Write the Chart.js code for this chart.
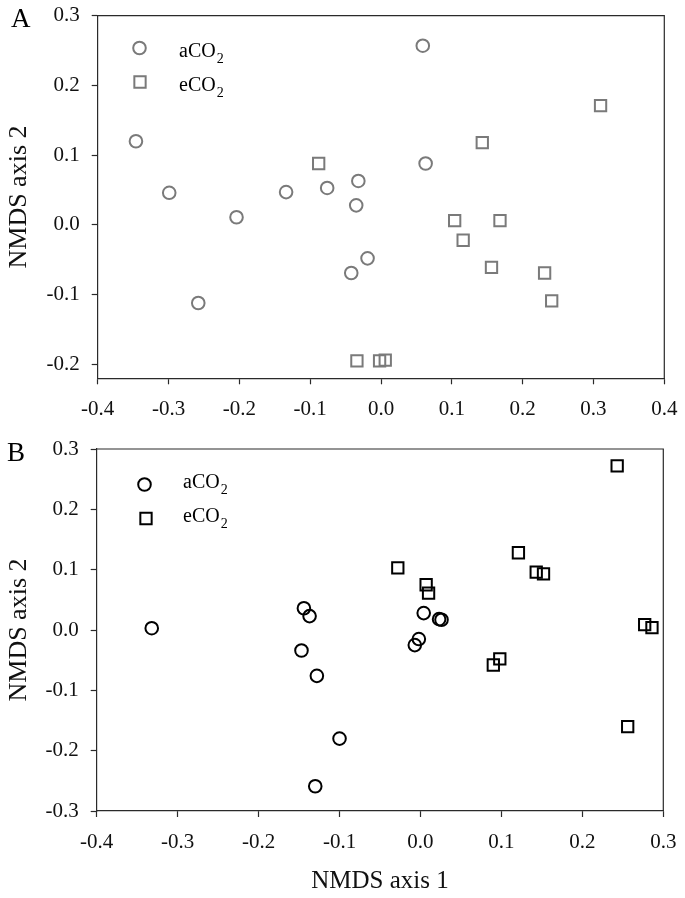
<!DOCTYPE html>
<html><head><meta charset="utf-8">
<script src="https://cdn.jsdelivr.net/npm/chart.js@4/dist/chart.umd.min.js"></script>
<style>
html,body{margin:0;padding:0;background:#fff;width:685px;height:898px;overflow:hidden}
canvas{position:absolute;left:0}
#cA{top:0}#cB{top:430px}
</style></head><body>
<canvas id="cA" width="685" height="430"></canvas>
<canvas id="cB" width="685" height="468"></canvas>
<script>
// ---------- data ----------
const seriesNames = ['aCO2', 'eCO2'];

// Panel A
const A_aCO2_x = [-0.346, -0.299, -0.204, -0.258, -0.134, -0.076, -0.035, -0.042, -0.032, -0.019, 0.059, 0.063];
const A_aCO2_y = [0.120, 0.046, 0.011, -0.112, 0.047, 0.053, 0.028, -0.069, 0.063, -0.048, 0.257, 0.088];
const A_eCO2_x = [-0.088, 0.310, 0.143, 0.104, 0.168, 0.116, 0.156, 0.231, 0.241, -0.034, -0.002, 0.006];
const A_eCO2_y = [0.088, 0.171, 0.118, 0.006, 0.006, -0.022, -0.061, -0.069, -0.109, -0.195, -0.195, -0.194];

// Panel B
const B_aCO2_x = [-0.332, -0.144, -0.137, -0.147, -0.128, -0.100, -0.130, 0.004, 0.023, 0.026, -0.002, -0.007];
const B_aCO2_y = [0.003, 0.036, 0.023, -0.034, -0.076, -0.180, -0.259, 0.028, 0.018, 0.017, -0.015, -0.025];
const B_eCO2_x = [-0.028, 0.007, 0.010, 0.121, 0.143, 0.152, 0.243, 0.277, 0.286, 0.098, 0.090, 0.256];
const B_eCO2_y = [0.103, 0.075, 0.061, 0.128, 0.096, 0.093, 0.272, 0.009, 0.004, -0.048, -0.058, -0.160];

// ticks
const A_xTicks = [-0.4, -0.3, -0.2, -0.1, 0.0, 0.1, 0.2, 0.3, 0.4];
const A_yTicks = [-0.2, -0.1, 0.0, 0.1, 0.2, 0.3];
const B_xTicks = [-0.4, -0.3, -0.2, -0.1, 0.0, 0.1, 0.2, 0.3];
const B_yTicks = [-0.3, -0.2, -0.1, 0.0, 0.1, 0.2, 0.3];

const xTitle = 'NMDS axis 1';
const yTitle = 'NMDS axis 2';

// ---------- helpers ----------
const SERIF = '"Liberation Serif", "Times New Roman", serif';
Chart.defaults.font.family = SERIF;
Chart.defaults.color = '#111';

function pts(xs, ys) { return xs.map((x, i) => ({x: x, y: ys[i]})); }

const framePlugin = {
  id: 'frame',
  afterDraw(chart, args, o) {
    const ctx = chart.ctx, a = chart.chartArea;
    ctx.save();
    ctx.strokeStyle = o.axisColor; ctx.lineWidth = 1.2;
    ctx.beginPath();
    ctx.moveTo(a.left, a.top); ctx.lineTo(a.right, a.top); ctx.lineTo(a.right, a.bottom);
    ctx.stroke();
    ctx.fillStyle = '#000';
    ctx.font = '27px ' + SERIF;
    ctx.textAlign = 'left'; ctx.textBaseline = 'alphabetic';
    ctx.fillText(o.letter, o.letterX, o.letterY);
    chart.data.datasets.forEach((ds, i) => {
      const it = o.legend[i];
      ctx.strokeStyle = ds.borderColor; ctx.lineWidth = ds.borderWidth;
      ctx.beginPath();
      if (ds.pointStyle === 'circle') {
        ctx.arc(it.mx, it.my, ds.pointRadius, 0, Math.PI * 2);
      } else {
        const s = ds.pointRadius * Math.SQRT1_2;
        ctx.rect(it.mx - s, it.my - s, 2 * s, 2 * s);
      }
      ctx.stroke();
      const name = ds.label, main = name.slice(0, -1), sub = name.slice(-1);
      ctx.fillStyle = '#000';
      ctx.font = '20px ' + SERIF;
      ctx.fillText(main, it.tx, it.ty);
      const w = ctx.measureText(main).width;
      ctx.font = '14px ' + SERIF;
      ctx.fillText(sub, it.tx + w + 1, it.ty + 6);
    });
    ctx.restore();
  }
};

function makeChart(id, cfg) {
  const axisColor = '#2a2a2a';
  const scaleCommon = (ticksArr, min, max) => ({
    type: 'linear', min: min, max: max,
    afterBuildTicks: s => { s.ticks = ticksArr.map(v => ({value: v})); },
    grid: {display: true, drawOnChartArea: false, drawTicks: true, tickLength: 6, tickColor: axisColor, tickWidth: 1.2},
    border: {display: true, color: axisColor, width: 1.2},
    ticks: {font: {size: 21}, color: '#111', padding: 12, callback: v => Number(v).toFixed(1)}
  });
  const xs = scaleCommon(cfg.xTicks, cfg.xMin, cfg.xMax);
  xs.position = 'bottom';
  xs.ticks.padding = 13;
  xs.afterFit = s => { s.height = cfg.xAxisH; s.paddingLeft = 0; s.paddingRight = 0; };
  if (cfg.showXTitle) xs.title = {display: true, text: xTitle, font: {size: 25}, color: '#111', padding: {top: 0, bottom: 2}};
  const ys = scaleCommon(cfg.yTicks, cfg.yMin, cfg.yMax);
  ys.position = 'left';
  ys.afterFit = s => { s.width = cfg.yAxisW; s.paddingTop = 0; s.paddingBottom = 0; };
  ys.title = {display: true, text: yTitle, font: {size: 26}, color: '#111', padding: {top: 3.5, bottom: 0}};

  return new Chart(document.getElementById(id), {
    type: 'scatter',
    data: {
      datasets: [
        {label: seriesNames[0], data: pts(cfg.ax, cfg.ay), pointStyle: 'circle', pointRadius: 6.3,
         borderColor: cfg.color, borderWidth: 2, backgroundColor: 'rgba(0,0,0,0)', clip: false},
        {label: seriesNames[1], data: pts(cfg.ex, cfg.ey), pointStyle: 'rect', pointRadius: 8,
         borderColor: cfg.color, borderWidth: 2, backgroundColor: 'rgba(0,0,0,0)', clip: false}
      ]
    },
    options: {
      responsive: false, animation: false, events: [], devicePixelRatio: 1,
      layout: {padding: cfg.padding},
      scales: {x: xs, y: ys},
      plugins: {
        legend: {display: false}, tooltip: {enabled: false},
        frame: {axisColor: axisColor, letter: cfg.letter, letterX: cfg.letterX, letterY: cfg.letterY, legend: cfg.legend}
      }
    },
    plugins: [framePlugin]
  });
}

makeChart('cA', {
  ax: A_aCO2_x, ay: A_aCO2_y, ex: A_eCO2_x, ey: A_eCO2_y,
  xTicks: A_xTicks, yTicks: A_yTicks, xMin: -0.4, xMax: 0.4, yMin: -0.22, yMax: 0.3,
  color: '#7a7a7a', padding: {left: 0, right: 20.7, top: 15.7, bottom: 0},
  xAxisH: 51.7, yAxisW: 97.7, showXTitle: false,
  letter: 'A', letterX: 11, letterY: 27,
  legend: [{mx: 139.5, my: 48, tx: 179, ty: 57}, {mx: 140, my: 82, tx: 179, ty: 91}]
});

makeChart('cB', {
  ax: B_aCO2_x, ay: B_aCO2_y, ex: B_eCO2_x, ey: B_eCO2_y,
  xTicks: B_xTicks, yTicks: B_yTicks, xMin: -0.4, xMax: 0.3, yMin: -0.3, yMax: 0.3,
  color: '#000', padding: {left: 0, right: 21.7, top: 19, bottom: 0},
  xAxisH: 87, yAxisW: 96.7, showXTitle: true,
  letter: 'B', letterX: 7, letterY: 31,
  legend: [{mx: 144.5, my: 54.5, tx: 183, ty: 58}, {mx: 146, my: 88.5, tx: 183, ty: 92}]
});
</script>
</body></html>
